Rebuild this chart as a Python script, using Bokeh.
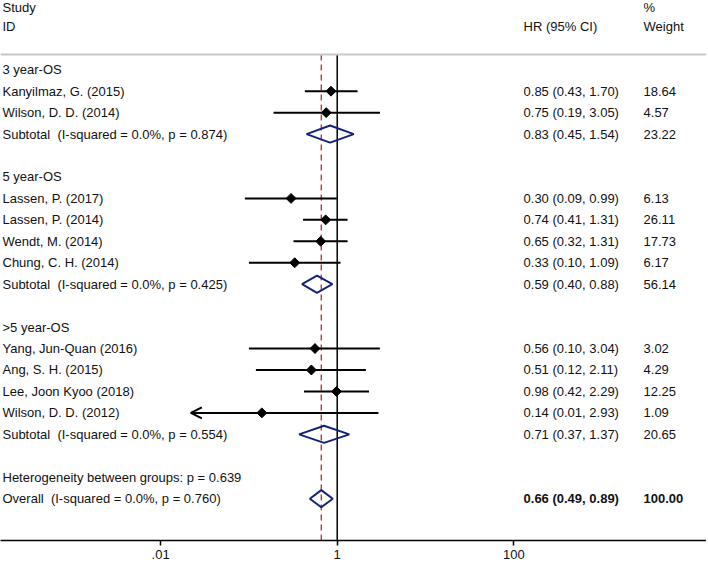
import numpy as np
from bokeh.plotting import figure
from bokeh.models import Range1d, FixedTicker, ColumnDataSource, Arrow, OpenHead, Span
from bokeh.embed import file_html
from bokeh.resources import INLINE
from bokeh.core.properties import value

# ---------------- data ----------------
study_labels = ["Kanyilmaz, G. (2015)", "Wilson, D. D. (2014)",
                "Lassen, P. (2017)", "Lassen, P. (2014)", "Wendt, M. (2014)", "Chung, C. H. (2014)",
                "Yang, Jun-Quan (2016)", "Ang, S. H. (2015)", "Lee, Joon Kyoo (2018)", "Wilson, D. D. (2012)"]
study_hr = [0.85, 0.75, 0.30, 0.74, 0.65, 0.33, 0.56, 0.51, 0.98, 0.14]
study_lo = [0.43, 0.19, 0.09, 0.41, 0.32, 0.10, 0.10, 0.12, 0.42, 0.01]
study_hi = [1.70, 3.05, 0.99, 1.31, 1.31, 1.09, 3.04, 2.11, 2.29, 2.93]
study_weight = ["18.64", "4.57", "6.13", "26.11", "17.73", "6.17", "3.02", "4.29", "12.25", "1.09"]
study_row = [0, 1, 5, 6, 7, 8, 12, 13, 14, 15]

group_labels = ["3 year-OS", "5 year-OS", ">5 year-OS"]
group_row = [-1, 4, 11]

pooled_labels = ["Subtotal\u00a0 (I-squared = 0.0%, p = 0.874)",
                 "Subtotal\u00a0 (I-squared = 0.0%, p = 0.425)",
                 "Subtotal\u00a0 (I-squared = 0.0%, p = 0.554)",
                 "Overall\u00a0 (I-squared = 0.0%, p = 0.760)"]
pooled_hr = [0.83, 0.59, 0.71, 0.66]
pooled_lo = [0.45, 0.40, 0.37, 0.49]
pooled_hi = [1.54, 0.88, 1.37, 0.89]
pooled_weight = ["23.22", "56.14", "20.65", "100.00"]
pooled_row = [2, 9, 16, 19]

het_label = "Heterogeneity between groups: p = 0.639"
het_row = 18

tick_values = [0.01, 1, 100]
tick_labels = [".01", "1", "100"]
ci_clip_low = 0.022   # plotted lower limit of CIs (arrow beyond)
overall_hr = 0.66
null_hr = 1

# ---------------- layout constants ----------------
FONT = value("Liberation Sans")
FS = value("13px")
TXT = "#111111"
X_START, X_END = 1.538e-4, 15200
Y_BOTTOM, Y_TOP = 20.95, -4.228
X_LABEL, X_HR, X_W = 1.62e-4, 128.8, 2944
HEAD_ROW = -1.71

p = figure(frame_width=706, frame_height=540, x_axis_type="log",
           x_range=Range1d(X_START, X_END), y_range=Range1d(Y_BOTTOM, Y_TOP),
           output_backend="svg", toolbar_location=None, min_border=0,
           y_axis_location=None, background_fill_color="white",
           border_fill_color="white")
p.outline_line_color = None
p.grid.visible = False

# header line
p.add_layout(Span(location=HEAD_ROW, dimension="width", line_color="#c8c8c8", line_width=2))

# vertical lines
p.segment(x0=[null_hr], x1=[null_hr], y0=[HEAD_ROW], y1=[Y_BOTTOM], line_color="black", line_width=1.5)
p.segment(x0=[overall_hr], x1=[overall_hr], y0=[HEAD_ROW], y1=[Y_BOTTOM],
          line_color="#b03030", line_width=1.3, line_dash="6 4")

# study CIs
lo_plot = [max(l, ci_clip_low) for l in study_lo]
src = ColumnDataSource(dict(hr=study_hr, lo=lo_plot, hi=study_hi, row=study_row))
p.segment(x0="lo", x1="hi", y0="row", y1="row", source=src, line_color="black", line_width=2)
for hr, lo, hi, row in zip(study_hr, study_lo, study_hi, study_row):
    if lo < ci_clip_low:
        p.add_layout(Arrow(end=OpenHead(size=11, line_width=2, line_color="black"),
                           line_width=2, line_color="black",
                           x_start=hr, y_start=row, x_end=ci_clip_low, y_end=row))
p.scatter(x="hr", y="row", source=src, marker="square", angle=np.pi / 4, size=7,
          color="black")

# pooled diamonds
h = 0.4
xs = [[lo, hr, hi, hr] for hr, lo, hi in zip(pooled_hr, pooled_lo, pooled_hi)]
ys = [[r, r - h, r, r + h] for r in pooled_row]
p.patches(xs=xs, ys=ys, fill_color=None, line_color="#14237a", line_width=2)

# texts
def put(x, y, texts, bold=False, align="left"):
    p.text(x=x, y=y, text=texts, text_font=FONT, text_font_size=FS,
           text_baseline="middle", text_align=align, text_color=TXT,
           text_font_style="bold" if bold else "normal")

put([X_LABEL] * 2, [-3.9, -3.0], ["Study", "ID"])
put([X_HR], [-3.0], ["HR (95% CI)"])
put([X_W] * 2, [-3.9, -3.0], ["%", "Weight"])
put([X_LABEL] * len(group_row), group_row, group_labels)
put([X_LABEL] * len(study_row), study_row, study_labels)
put([X_LABEL] * len(pooled_row), pooled_row, pooled_labels)
put([X_LABEL], [het_row], [het_label])

hr_txt = [f"{a:.2f} ({b:.2f}, {c:.2f})" for a, b, c in zip(study_hr, study_lo, study_hi)]
put([X_HR] * len(study_row), study_row, hr_txt)
put([X_W] * len(study_row), study_row, study_weight)
phr_txt = [f"{a:.2f} ({b:.2f}, {c:.2f})" for a, b, c in zip(pooled_hr, pooled_lo, pooled_hi)]
put([X_HR] * 3, pooled_row[:3], phr_txt[:3])
put([X_W] * 3, pooled_row[:3], pooled_weight[:3])
put([X_HR], [pooled_row[3]], [phr_txt[3]], bold=True)
put([X_W], [pooled_row[3]], [pooled_weight[3]], bold=True)

# axis
ax = p.xaxis[0]
ax.ticker = FixedTicker(ticks=tick_values)
ax.major_label_overrides = {t: l for t, l in zip(tick_values, tick_labels)}
ax.axis_line_width = 1.5
ax.axis_line_color = "black"
ax.major_tick_in = 0
ax.major_tick_out = 5
ax.major_tick_line_width = 1.5
ax.minor_tick_line_color = None
ax.major_label_standoff = 4
ax.major_label_text_font = "Liberation Sans"
ax.major_label_text_font_size = "13px"
ax.major_label_text_color = TXT

open("out.html", "w").write(file_html(p, INLINE))
